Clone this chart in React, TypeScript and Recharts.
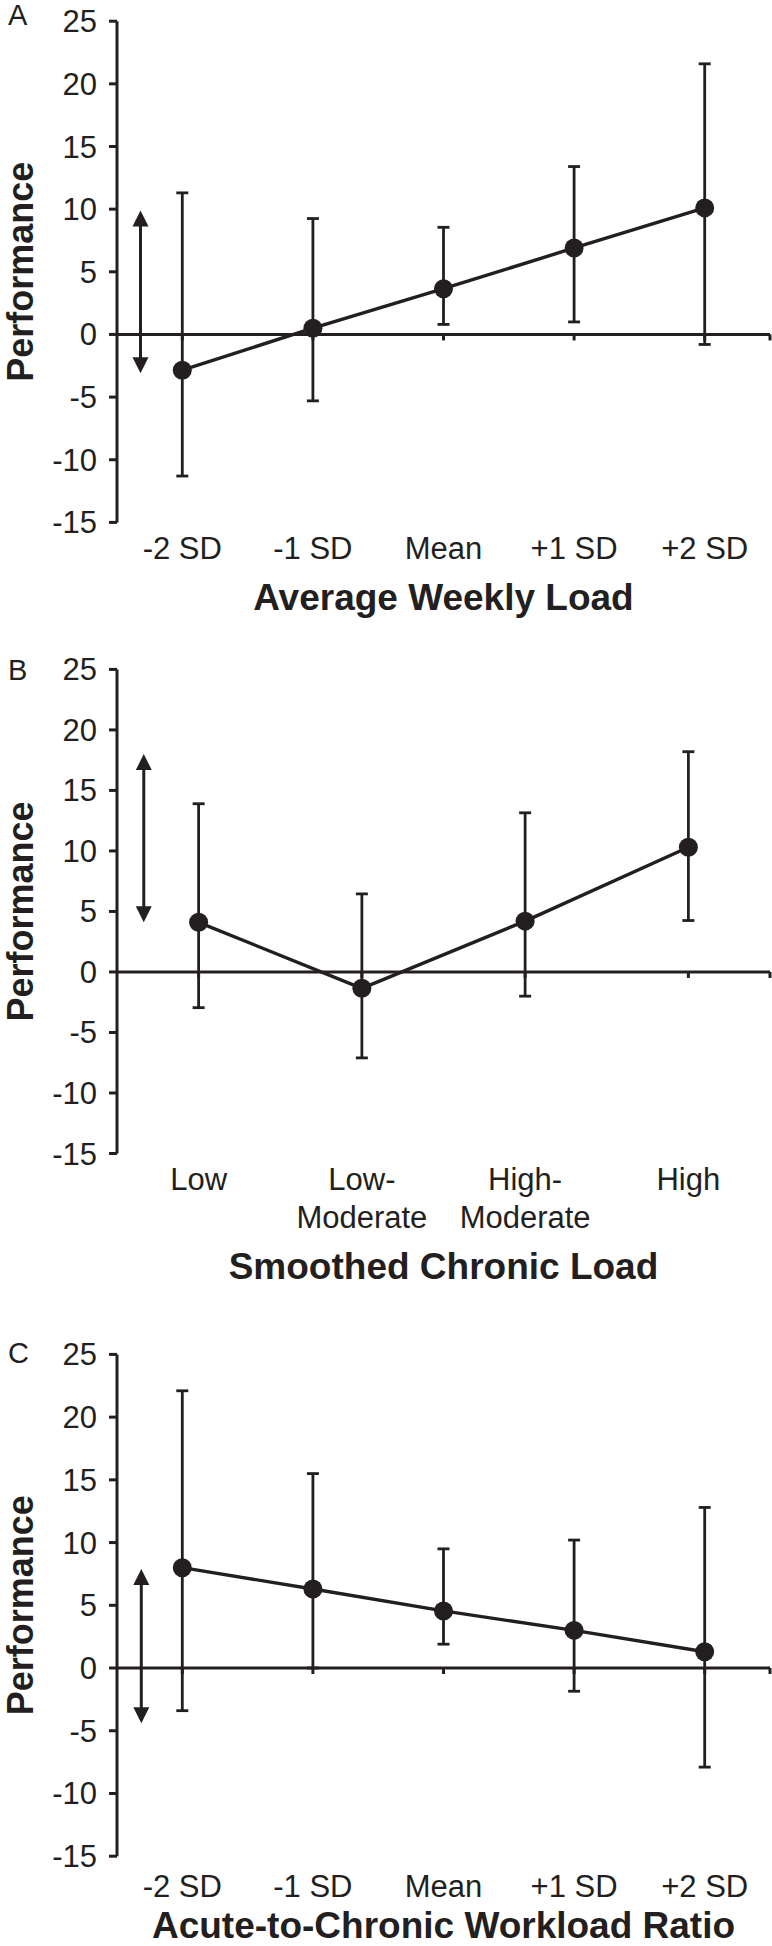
import { ComposedChart, ErrorBar, Label, Line, ReferenceLine, Scatter, XAxis, YAxis } from "recharts";

const INK = "#231f20";
const FONT = "'Liberation Sans', Arial, Helvetica, sans-serif";

const yTicks = [-15, -10, -5, 0, 5, 10, 15, 20, 25];

// A: average weekly load
const sdLabels = ["-2 SD", "-1 SD", "Mean", "+1 SD", "+2 SD"];
const weeklyMean = [-2.85, 0.5, 3.65, 6.9, 10.1];
const weeklyLow = [-11.3, -5.3, 0.8, 1.0, -0.8];
const weeklyHigh = [11.3, 9.25, 8.55, 13.4, 21.6];
const weeklyArrow = [9.9, -3.1];

// B: smoothed chronic load
const chronicLabels = ["Low", "Low-\nModerate", "High-\nModerate", "High"];
const chronicMean = [4.1, -1.35, 4.2, 10.3];
const chronicLow = [-2.95, -7.1, -2.0, 4.25];
const chronicHigh = [13.9, 6.45, 13.15, 18.2];
const chronicArrow = [18.0, 4.1];

// C: acute-to-chronic workload ratio
const acwrMean = [8.0, 6.3, 4.55, 3.0, 1.3];
const acwrLow = [-3.4, 0, 1.9, -1.85, -7.9];
const acwrHigh = [22.1, 15.5, 9.5, 10.2, 12.8];
const acwrArrow = [7.9, -4.4];

function CatTick({ x, y, payload, labels, offset }: any) {
  const lines = String(labels[payload.value] ?? "").split("\n");
  return (
    <text x={x} y={y + offset} textAnchor="middle" fill={INK} fontSize={31} fontFamily={FONT}>
      {lines.map((l, i) => (
        <tspan key={i} x={x} dy={i === 0 ? 0 : 38}>
          {l}
        </tspan>
      ))}
    </text>
  );
}

function ZeroLine({ x1, y1, x2, y2 }: any) {
  return (
    <g>
      <line x1={x1} y1={y1} x2={x2} y2={y2} stroke={INK} strokeWidth={3} />
      <line x1={x2} y1={y2} x2={x2} y2={y2 + 6} stroke={INK} strokeWidth={3} />
    </g>
  );
}

function ZeroTick({ cx, cy }: any) {
  return <line x1={cx} y1={cy} x2={cx} y2={cy + 6} stroke={INK} strokeWidth={3} />;
}

function Arrow({ x1, y1, y2 }: any) {
  const top = Math.min(y1, y2);
  const bot = Math.max(y1, y2);
  const h = 16;
  const w = 8;
  return (
    <g>
      <line x1={x1} x2={x1} y1={top + h - 2} y2={bot - h + 2} stroke={INK} strokeWidth={3} />
      <polygon points={`${x1},${top} ${x1 - w},${top + h} ${x1 + w},${top + h}`} fill={INK} />
      <polygon points={`${x1},${bot} ${x1 - w},${bot - h} ${x1 + w},${bot - h}`} fill={INK} />
    </g>
  );
}

type PanelProps = {
  letter: string;
  title: string;
  labels: string[];
  mean: number[];
  low: number[];
  high: number[];
  arrow: number[];
  arrowX: number;
  height: number;
  plotTop: number;
  plotBottom: number;
  labelOffset: number;
  titleOffset: number;
  letterY: number;
};

function Panel(p: PanelProps) {
  const rows = p.labels.map((label, i) => ({
    idx: i,
    label,
    mean: p.mean[i],
    err: [p.mean[i] - p.low[i], p.high[i] - p.mean[i]],
    zero: 0,
  }));
  const n = p.labels.length;
  const xAxisHeight = 40;

  return (
    <ComposedChart
      width={772}
      height={p.height}
      data={rows}
      margin={{ top: p.plotTop, right: 2, bottom: p.height - p.plotBottom - xAxisHeight, left: 0 }}
    >
      <XAxis
        type="number"
        dataKey="idx"
        domain={[-0.5, n - 0.5]}
        ticks={rows.map((r) => r.idx)}
        interval={0}
        height={xAxisHeight}
        axisLine={false}
        tickLine={false}
        tickSize={0}
        tickMargin={0}
        tick={<CatTick labels={p.labels} offset={p.labelOffset} />}
      >
        <Label
          content={({ viewBox }: any) => (
            <text
              x={viewBox.x + viewBox.width / 2}
              y={viewBox.y + p.titleOffset}
              textAnchor="middle"
              fill={INK}
              fontSize={37}
              fontWeight="bold"
              fontFamily={FONT}
            >
              {p.title}
            </text>
          )}
        />
      </XAxis>
      <YAxis
        type="number"
        domain={[-15, 25]}
        ticks={yTicks}
        interval={0}
        width={117}
        axisLine={{ stroke: INK, strokeWidth: 3 }}
        tickLine={{ stroke: INK, strokeWidth: 3 }}
        tickSize={8}
        tickMargin={12}
        tick={{ fill: INK, fontSize: 31, fontFamily: FONT }}
      >
        <Label
          content={({ viewBox }: any) => (
            <g>
              <text x={8} y={p.letterY} fill={INK} fontSize={29} fontFamily={FONT}>
                {p.letter}
              </text>
              <text
                transform={`translate(33, ${viewBox.y + viewBox.height / 2}) rotate(-90)`}
                textAnchor="middle"
                fill={INK}
                fontSize={36}
                fontWeight="bold"
                fontFamily={FONT}
              >
                Performance
              </text>
            </g>
          )}
        />
      </YAxis>
      <ReferenceLine y={0} shape={ZeroLine} />
      <Scatter dataKey="zero" shape={ZeroTick} isAnimationActive={false} />
      <ReferenceLine
        segment={[
          { x: p.arrowX, y: p.arrow[0] },
          { x: p.arrowX, y: p.arrow[1] },
        ]}
        shape={Arrow}
      />
      <Line
        type="linear"
        dataKey="mean"
        stroke={INK}
        strokeWidth={3.4}
        dot={{ r: 9.5, fill: INK, stroke: INK, strokeWidth: 0 }}
        activeDot={false}
        isAnimationActive={false}
      >
        <ErrorBar dataKey="err" direction="y" width={6} stroke={INK} strokeWidth={2.8} isAnimationActive={false} />
      </Line>
    </ComposedChart>
  );
}

export default function App() {
  return (
    <div style={{ position: "absolute", left: 0, top: 0, width: 772, height: 1946, background: "#fff" }}>
      <Panel
        letter="A"
        title="Average Weekly Load"
        labels={sdLabels}
        mean={weeklyMean}
        low={weeklyLow}
        high={weeklyHigh}
        arrow={weeklyArrow}
        arrowX={-0.32}
        height={640}
        plotTop={21.2}
        plotBottom={522.4}
        labelOffset={37}
        titleOffset={88}
        letterY={25}
      />
      <Panel
        letter="B"
        title="Smoothed Chronic Load"
        labels={chronicLabels}
        mean={chronicMean}
        low={chronicLow}
        high={chronicHigh}
        arrow={chronicArrow}
        arrowX={-0.336}
        height={660}
        plotTop={29.4}
        plotBottom={513.5}
        labelOffset={36}
        titleOffset={125}
        letterY={40}
      />
      <Panel
        letter="C"
        title="Acute-to-Chronic Workload Ratio"
        labels={sdLabels}
        mean={acwrMean}
        low={acwrLow}
        high={acwrHigh}
        arrow={acwrArrow}
        arrowX={-0.314}
        height={646}
        plotTop={54.4}
        plotBottom={556.2}
        labelOffset={41}
        titleOffset={82}
        letterY={63}
      />
    </div>
  );
}
